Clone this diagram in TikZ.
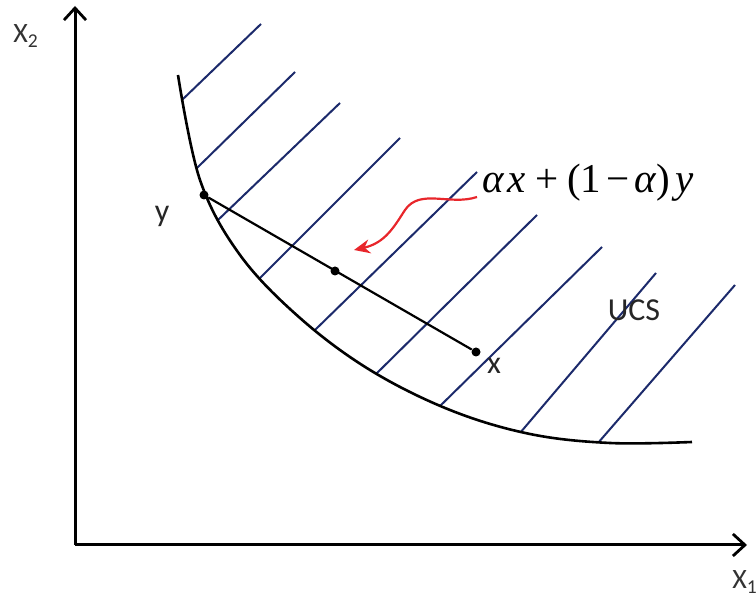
\documentclass[tikz,border=0pt]{standalone}
\usepackage{fontspec}
\setmainfont{Carlito}
\newfontfamily\formfont{Liberation Serif}
\usetikzlibrary{arrows.meta,calc}
\definecolor{hatchblue}{HTML}{1C2A6B}
\definecolor{arrred}{HTML}{E8262B}
\tikzset{
  axis/.style={line width=1.5pt, -{Straight Barb[length=6pt,width=11pt,line width=1.4pt]}},
  hatch/.style={hatchblue, line width=1pt},
  curveline/.style={line width=1.3pt},
  segline/.style={line width=1.1pt},
  dotpt/.style={circle, fill=black, inner sep=0pt, minimum size=4.5pt},
  lbl/.style={font=\fontsize{16}{18}\selectfont, text=black!85, inner sep=0pt},
  axlbl/.style={font=\fontsize{14}{16}\selectfont, text=black!80, inner sep=0pt},
}
\def\ucscurve{(178,75) (200,180) (240,255) (300,318) (370,370) (450,410) (530,434) (610,443) (692,442)}
\begin{document}
\begin{tikzpicture}[x=0.5pt,y=-0.5pt]
\useasboundingbox (0,0) rectangle (756,597);
% axes
\coordinate (O) at (75,545);
\coordinate (ytop) at (75,6);
\coordinate (xend) at (747,545);
\draw[axis] (O) -- (ytop);
\draw[axis] (O) -- (xend);
\node[axlbl, anchor=west] (X2) at (13,36) {X\textsubscript{2}};
\node[axlbl, anchor=west] (X1) at (732,582) {X\textsubscript{1}};
% hatch lines, clipped to the region above the curve
\begin{scope}
\clip plot[smooth, tension=0.6] coordinates {\ucscurve} -- (756,442) -- (756,0) -- (178,0) -- cycle;
\foreach \a/\b/\c/\d in {182/100/261/24, 198/167/295/72, 218/220/340/103, 260/278/400/138,
  315/330/477/172, 373/377/537/215, 438/408/602/247, 520/433/656/273, 598/443/735/285}
  \draw[hatch] (\c,\d) -- ($(\c,\d)!1.25!(\a,\b)$);
\end{scope}
% curve
\draw[curveline] plot[smooth, tension=0.6] coordinates {\ucscurve};
% segment
\node[dotpt] (py) at (204,195) {};
\node[dotpt] (pm) at (335,271) {};
\node[dotpt] (px) at (476,352) {};
\draw[segline] (py) -- (px);
\node[lbl] (ly) at (162,216) {y};
\node[lbl] (lx) at (494,366) {x};
\node[lbl] (ucs) at (634,310) {UCS};
% formula
\node[font=\formfont\fontsize{20.5}{23}\selectfont, inner sep=0pt, anchor=west] (form) at (482,183)
  {\textit{α\kern2pt x}\kern4.5pt+\kern4.5pt(1\kern2.5pt−\kern2.5pt\textit{α})\kern2.5pt\textit{y}};
% red arrow
\coordinate (rs) at (477,197);
\coordinate (re) at (354,250);
\draw[arrred, line width=1.1pt, -{Stealth[length=8pt,width=7pt]}] (rs) .. controls (450,206) and (420,188) .. (405,210) .. controls (394,227) and (385,243) .. (re);
\end{tikzpicture}
\end{document}
